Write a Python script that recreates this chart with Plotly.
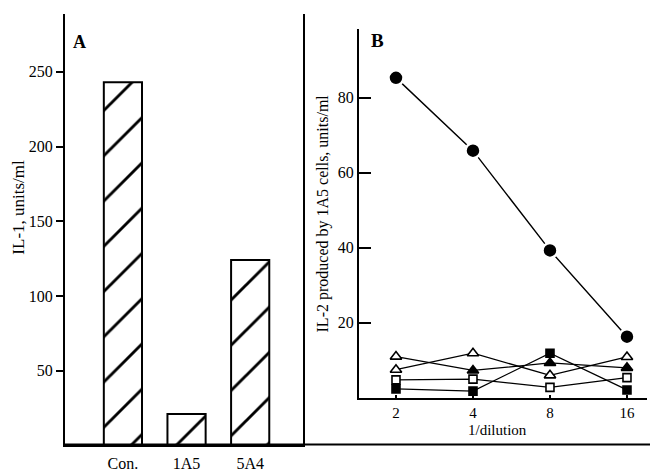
import plotly.graph_objects as go

W, H = 650, 472

# Panel A data
cells = ["Con.", "1A5", "5A4"]
il1_units = [243, 21, 124]
il1_ticks = [50, 100, 150, 200, 250]

# Panel B data
dilution = [2, 4, 8, 16]
il2_filled_circle = [85.3, 65.9, 39.3, 16.3]
il2_open_tri = [7.5, 11.9, 6.0, 10.9]
il2_filled_tri = [11.0, 7.3, 9.3, 8.0]
il2_open_sq = [4.8, 5.0, 2.8, 5.4]
il2_filled_sq = [2.4, 1.8, 11.9, 2.1]
il2_ticks = [20, 40, 60, 80]

FONT = "Liberation Serif"

def px(x):
    return x / W

def py(y):
    return 1 - y / H

fig = go.Figure()

fig.add_trace(go.Bar(
    x=cells, y=il1_units, width=0.6,
    marker=dict(color="white", line=dict(color="black", width=2),
                pattern=dict(shape="/", fgcolor="black", bgcolor="white",
                             fgopacity=1, fillmode="replace",
                             size=32, solidity=0.09)),
    xaxis="x", yaxis="y", showlegend=False,
))

def add_series(vals, symbol, colors, size):
    fig.add_trace(go.Scatter(
        x=dilution, y=vals, mode="lines+markers",
        line=dict(color="black", width=1.3),
        marker=dict(symbol=symbol, size=size, color=colors,
                    line=dict(color="black", width=1.6)),
        xaxis="x2", yaxis="y2", showlegend=False,
    ))

add_series(il2_open_tri, "triangle-up", "white", 10)
add_series(il2_filled_tri, "triangle-up", ["white", "black", "black", "black"], 10)
add_series(il2_open_sq, "square", "white", 8)
add_series(il2_filled_sq, "square", "black", 8)

fig.add_trace(go.Scatter(
    x=dilution, y=il2_filled_circle, mode="lines+markers",
    line=dict(color="black", width=1.4),
    marker=dict(symbol="circle", size=15, color="black",
                line=dict(color="white", width=2.5)),
    xaxis="x2", yaxis="y2", showlegend=False,
))

tickfont = dict(family=FONT, size=16, color="black")
tickfont_b = dict(family=FONT, size=15, color="black")

fig.update_layout(
    width=W, height=H, autosize=False,
    margin=dict(l=0, r=0, t=0, b=0),
    paper_bgcolor="white", plot_bgcolor="white",
    font=dict(family=FONT, color="black"),
    xaxis=dict(domain=[px(65), px(303)], type="category",
               range=[-0.91, 2.83], showgrid=False, zeroline=False,
               showline=True, linecolor="black", linewidth=2,
               ticks="", tickfont=tickfont, ticklabelstandoff=2, anchor="y"),
    yaxis=dict(domain=[py(459), py(14)], range=[0, 289],
               tickvals=il1_ticks, showgrid=False, zeroline=False,
               showline=True, linecolor="black", linewidth=2, mirror=True,
               ticks="outside", ticklen=7, tickwidth=2, tickcolor="black",
               tickfont=tickfont, anchor="x"),
    xaxis2=dict(domain=[px(359), px(647)], type="log",
                range=[0.1564, 1.2824], tickvals=dilution,
                ticktext=[str(d) for d in dilution],
                showgrid=False, zeroline=False,
                showline=True, linecolor="black", linewidth=2,
                ticks="inside", ticklen=3, tickwidth=1.5, tickcolor="black",
                tickfont=tickfont_b, ticklabelstandoff=0, anchor="y2"),
    yaxis2=dict(domain=[py(410), py(30)], range=[0, 98.3],
                tickvals=il2_ticks, showgrid=False, zeroline=False,
                showline=True, linecolor="black", linewidth=2,
                ticks="inside", ticklen=12, tickwidth=2, tickcolor="black",
                tickfont=tickfont, anchor="x2"),
)

# bottom baseline across figure
fig.add_shape(type="line", xref="paper", yref="paper",
              x0=px(63), x1=1, y0=py(458), y1=py(458),
              line=dict(color="black", width=2))

annots = [
    dict(text="<b>A</b>", x=px(79), y=py(43), size=18, angle=0),
    dict(text="<b>B</b>", x=px(377), y=py(42), size=19, angle=0),
    dict(text="IL-1, units/ml", x=px(19), y=py(214), size=17, angle=-90),
    dict(text="IL-2 produced by 1A5 cells, units/ml", x=px(323), y=py(220), size=16, angle=-90),
    dict(text="1/dilution", x=px(497), y=py(443), size=15, angle=0),
]
for a in annots:
    fig.add_annotation(text=a["text"], x=a["x"], y=a["y"], xref="paper", yref="paper",
                       showarrow=False, textangle=a["angle"],
                       font=dict(family=FONT, size=a["size"], color="black"),
                       xanchor="center", yanchor="middle")

fig.write_html("out.html", config={"responsive": False})
